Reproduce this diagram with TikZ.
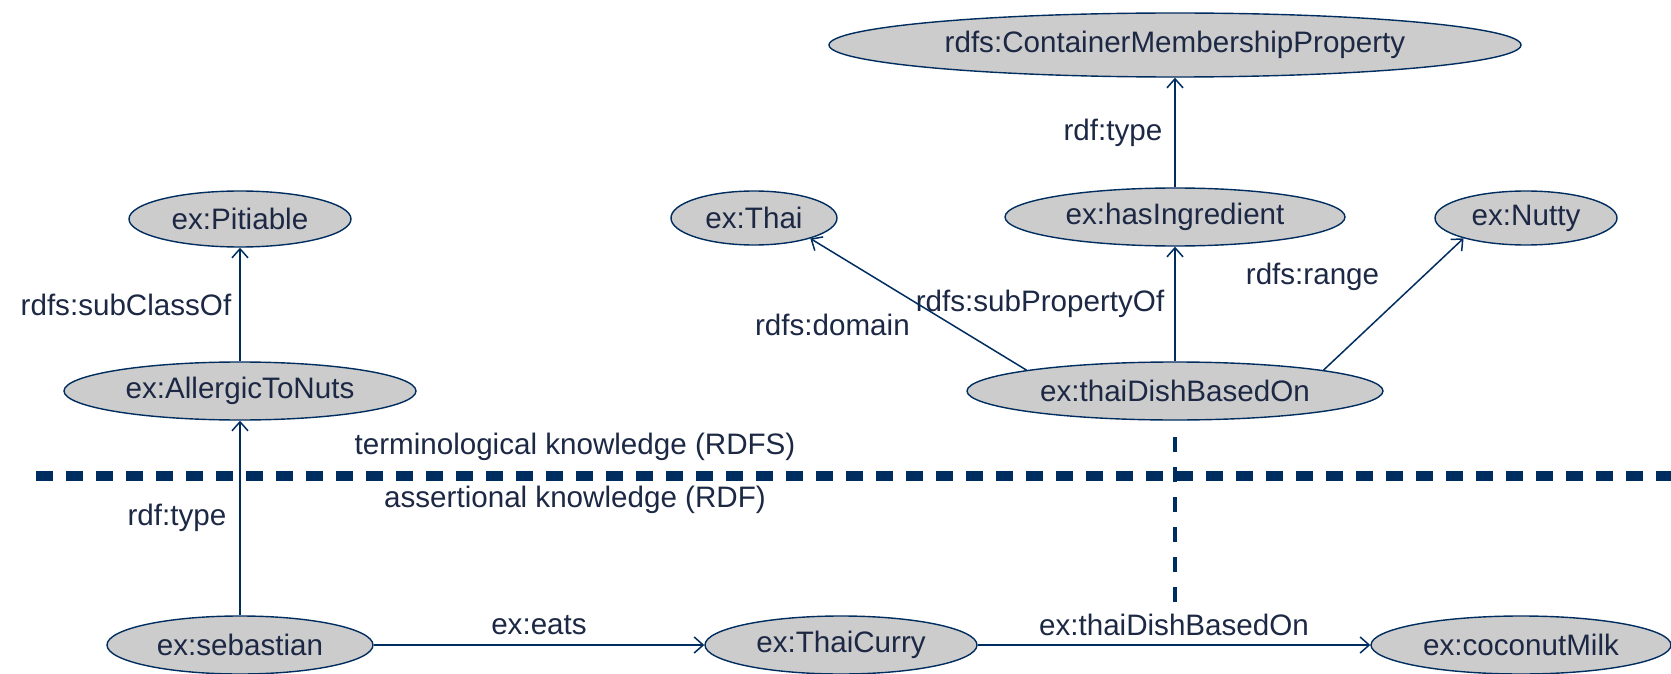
\documentclass[tikz,border=0pt]{standalone}
\usepackage{fontspec}
\setmainfont{Liberation Sans}
\usetikzlibrary{shapes.geometric,arrows.meta}
\definecolor{navy}{RGB}{0,45,95}
\definecolor{inkblue}{RGB}{28,40,68}
\definecolor{nodefill}{RGB}{204,204,204}
\begin{document}
\begin{tikzpicture}[x=0.5pt,y=-0.5pt,
  font=\fontsize{14.8}{17}\selectfont, text=inkblue,
  ent/.style={ellipse, draw=navy, line width=0.7pt, fill=nodefill,
              inner sep=0pt, minimum height=29pt},
  rel/.style={draw=navy, line width=0.75pt,
              -{Straight Barb[length=4.5pt,width=8pt]}},
  lbl/.style={inner sep=0pt, text=inkblue},
  hsep/.style={draw=navy, line width=4.6pt, dash pattern=on 8.5pt off 6.5pt},
  vsep/.style={draw=navy, line width=2pt, dash pattern=on 7.5pt off 7.5pt}]
\useasboundingbox (0,0) rectangle (1671,674);

% terminological layer (RDFS)
\node[ent, minimum width=346pt, minimum height=32pt] (cmp) at (1175,45) {rdfs:ContainerMembershipProperty};
\node[ent, minimum width=170pt] (hasing) at (1175,217) {ex:hasIngredient};
\node[ent, minimum width=83pt, minimum height=27pt] (thai) at (754,218) {ex:Thai};
\node[ent, minimum width=91pt, minimum height=27pt] (nutty) at (1526,218) {ex:Nutty};
\node[ent, minimum width=111pt, minimum height=28pt] (pitiable) at (240,219) {ex:Pitiable};
\node[ent, minimum width=176pt] (allergic) at (240,391) {ex:AllergicToNuts};
\node[ent, minimum width=208pt] (tdb) at (1175,391) {ex:thaiDishBasedOn};

% assertional layer (RDF)
\node[ent, minimum width=133pt] (sebastian) at (240,645) {ex:sebastian};
\node[ent, minimum width=136pt] (curry) at (841,645) {ex:ThaiCurry};
\node[ent, minimum width=150pt] (coconut) at (1521,645) {ex:coconutMilk};

% layer separators
\draw[hsep] (36,476) -- (1671,476);
\draw[vsep] (1175,437) -- (1175,603);
\node[lbl] (tlabel) at (575,447) {terminological knowledge (RDFS)};
\node[lbl] (alabel) at (575,500) {assertional knowledge (RDF)};

% relations
\draw[rel] (allergic) -- node[lbl, left=4pt] {rdfs:subClassOf} (pitiable);
\draw[rel] (sebastian) -- node[lbl, left=6.5pt] {rdf:type} (allergic);
\draw[rel] (sebastian) -- node[lbl, yshift=10pt] {ex:eats} (curry);
\draw[rel] (curry) -- node[lbl, yshift=10pt] {ex:thaiDishBasedOn} (coconut);
\draw[rel] (hasing) -- node[lbl, left=6pt] {rdf:type} (cmp);
\draw[rel] (tdb) -- node[lbl, left=5pt] {rdfs:subPropertyOf} (hasing);
\draw[rel] (tdb.172) -- node[lbl, xshift=-43pt, yshift=-10.5pt] {rdfs:domain} (thai.-20);
\draw[rel] (tdb.8) -- node[lbl, xshift=-40.5pt, yshift=13.5pt] {rdfs:range} (nutty.198);
\end{tikzpicture}
\end{document}
